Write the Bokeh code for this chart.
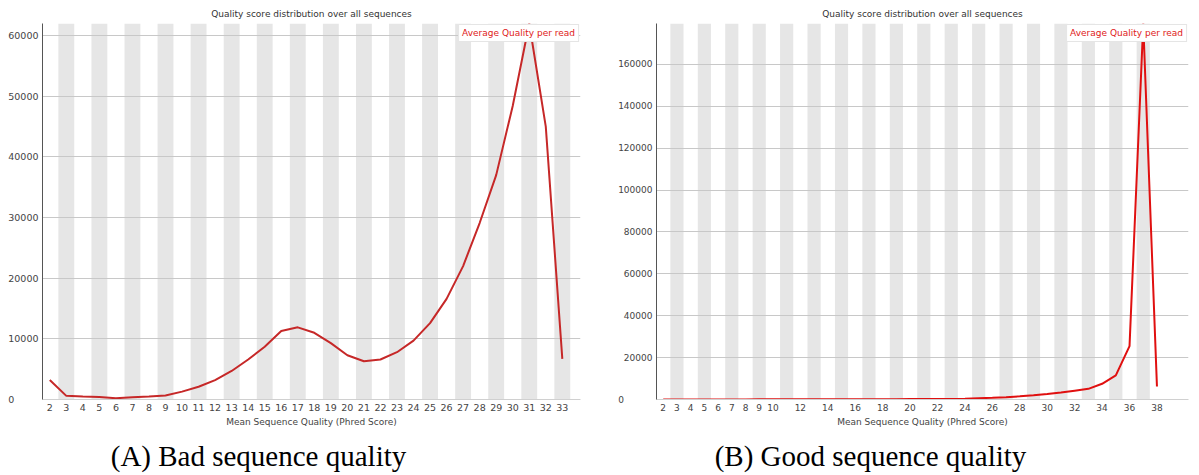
from bokeh.plotting import figure
from bokeh.models import (Range1d, FixedTicker, Label, Legend, LegendItem,
                          ColumnDataSource, BasicTickFormatter)
from bokeh.layouts import row, column
from bokeh.embed import file_html
from bokeh.resources import INLINE

# ---------------- data ----------------
chart_title = "Quality score distribution over all sequences"
x_title = "Mean Sequence Quality (Phred Score)"
legend_label = "Average Quality per read"

bad_quality = list(range(2, 34))
bad_counts = [3230, 600, 500, 430, 220, 380, 480, 650, 1300, 2100, 3200, 4700,
              6600, 8700, 11300, 11900, 11000, 9300, 7300, 6300, 6600, 7800,
              9700, 12600, 16600, 22000, 29100, 37000, 48400, 62000, 45000, 6700]
bad_xticks = list(range(2, 34))
bad_yticks = [0, 10000, 20000, 30000, 40000, 50000, 60000]
bad_ymax = 62000

good_quality = list(range(2, 39))
good_counts = [50, 30, 30, 40, 40, 50, 50, 60, 70, 80, 90, 100, 110, 120, 130,
               140, 150, 160, 180, 200, 220, 250, 400, 600, 800, 1100, 1500,
               2000, 2600, 3300, 4200, 5100, 7500, 11500, 25500, 179500, 6200]
good_xticks = [2, 3, 4, 5, 6, 7, 8, 9, 10, 12, 14, 16, 18, 20, 22, 24, 26, 28,
               30, 32, 34, 36, 38]
good_yticks = [0, 20000, 40000, 60000, 80000, 100000, 120000, 140000, 160000]
good_ymax = 179500

captions = ["(A) Bad sequence quality", "(B) Good sequence quality"]

FONT = "DejaVu Sans"
NBSP = "\u00a0"


def make_chart(quality, counts, xticks, yticks, ymax, width, x_range,
               border_left, border_right, line_color, zero_pad, tick_size):
    p = figure(width=width, height=430, output_backend="svg", toolbar_location=None,
               x_range=Range1d(*x_range), y_range=Range1d(0, ymax),
               min_border_left=border_left, min_border_right=border_right,
               min_border_top=23, min_border_bottom=31,
               background_fill_color="white", border_fill_color="white")
    p.outline_line_color = None

    p.title.text = chart_title
    p.title.align = "center"
    p.title.vertical_align = "middle"
    p.title.text_font = FONT
    p.title.text_font_size = "9px"
    p.title.text_font_style = "normal"
    p.title.text_color = "#333333"
    p.title.standoff = 8

    stripes = [q for q in quality if q % 2 == 1]
    sdata = ColumnDataSource(dict(x=stripes, top=[ymax] * len(stripes)))
    p.vbar(x="x", top="top", bottom=0, width=0.96, source=sdata,
           fill_color="#e6e6e6", line_color=None, level="image")

    src = ColumnDataSource(dict(x=quality, y=counts))
    r = p.line("x", "y", source=src, line_color=line_color, line_width=2)

    p.xgrid.visible = False
    p.ygrid.ticker = FixedTicker(ticks=[t for t in yticks if t > 0])
    p.ygrid.grid_line_color = "#c8c8c8"

    xa = p.xaxis[0]
    xa.ticker = FixedTicker(ticks=xticks)
    xa.axis_line_color = "#d0d0d0"
    xa.major_tick_line_color = None
    xa.minor_tick_line_color = None
    xa.major_tick_out = 0
    xa.major_tick_in = 0
    xa.major_label_standoff = 4
    xa.major_label_text_font = FONT
    xa.major_label_text_font_size = tick_size
    xa.major_label_text_color = "#444444"
    xa.axis_label = x_title
    xa.axis_label_standoff = 3
    xa.axis_label_text_font = FONT
    xa.axis_label_text_font_size = "9px"
    xa.axis_label_text_font_style = "normal"
    xa.axis_label_text_color = "#444444"

    ya = p.yaxis[0]
    ya.ticker = FixedTicker(ticks=yticks)
    ya.formatter = BasicTickFormatter(use_scientific=False)
    ya.major_label_overrides = {0: "0" + NBSP * zero_pad}
    ya.axis_line_color = "#555555"
    ya.major_tick_line_color = None
    ya.minor_tick_line_color = None
    ya.major_tick_out = 0
    ya.major_tick_in = 0
    ya.major_label_standoff = 4
    ya.major_label_text_font = FONT
    ya.major_label_text_font_size = tick_size
    ya.major_label_text_color = "#444444"

    legend = Legend(items=[LegendItem(label=legend_label, renderers=[r])],
                    location="top_right", glyph_width=0, glyph_height=10,
                    label_standoff=0, label_height=10, padding=3, margin=1,
                    spacing=0, border_line_color="#cccccc",
                    background_fill_color="white", background_fill_alpha=1,
                    label_text_color="#e02020", label_text_font=FONT,
                    label_text_font_size="9px")
    p.add_layout(legend)
    return p


p1 = make_chart(bad_quality, bad_counts, bad_xticks, bad_yticks, bad_ymax,
                600, (1.56, 34.1), 42, 20, "#c62828", 8, "9.5px")
p2 = make_chart(good_quality, good_counts, good_xticks, good_yticks, good_ymax,
                599, (1.51, 40.3), 56, 11, "#e01010", 10, "9px")

cap = figure(width=1199, height=45, output_backend="svg", toolbar_location=None,
             x_range=Range1d(0, 1199), y_range=Range1d(0, 45),
             min_border=0, border_fill_color="white")
cap.outline_line_color = None
cap.axis.visible = False
cap.grid.visible = False
for cx, txt in zip([258, 870], captions):
    cap.add_layout(Label(x=cx, y=20, text=txt, text_align="center",
                         text_baseline="middle", text_font="Liberation Serif",
                         text_font_size="29px", text_color="#000000"))

layout = column(row(p1, p2), cap)
open("out.html", "w").write(file_html(layout, INLINE))
